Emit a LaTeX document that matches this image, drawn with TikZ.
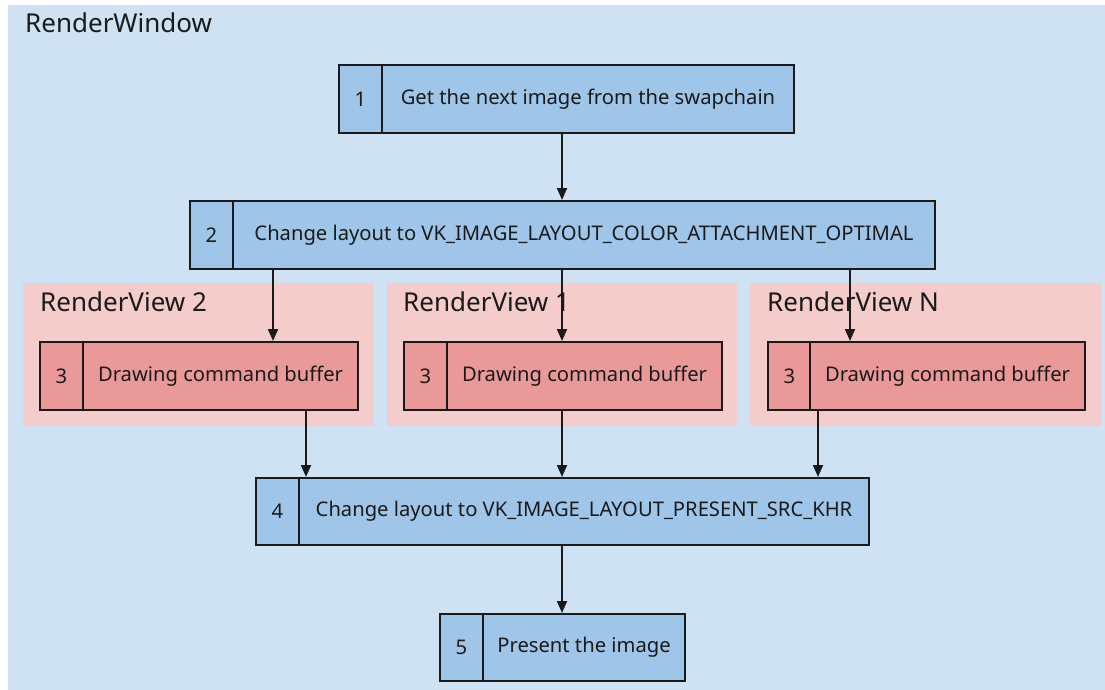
\documentclass[tikz,border=0pt]{standalone}
\usepackage{fontspec}
\setmainfont{Noto Sans}
\usetikzlibrary{arrows.meta}
\definecolor{winbg}{HTML}{CFE2F3}
\definecolor{stepblue}{HTML}{9FC5E8}
\definecolor{viewbg}{HTML}{F4CCCC}
\definecolor{stepred}{HTML}{EA9999}
\definecolor{ink}{HTML}{1A1A1A}
\tikzset{
  cell/.style={draw=ink, line width=2pt, rectangle, inner sep=0pt, anchor=north west,
    text=ink, font=\fontsize{20.2}{24}\selectfont},
  numcell/.style={cell, minimum width=43pt},
  bluecell/.style={cell, fill=stepblue},
  redcell/.style={cell, fill=stepred},
  panel/.style={fill=viewbg, draw=none},
  title/.style={anchor=base west, inner sep=0pt, text=ink, font=\fontsize{26}{30}\selectfont},
  flow/.style={draw=ink, line width=2pt, -{Triangle[length=12pt,width=10pt]}},
}
\begin{document}
\begin{tikzpicture}[x=1pt, y=-1pt]
\useasboundingbox (0,0) rectangle (1105,690);
% window background
\fill[winbg] (8,5) rectangle (1105,690);
\node[title] (wtitle) at (25,33) {RenderWindow};

% render view panels
\fill[panel] (23,283) rectangle (374,426);
\fill[panel] (387,283) rectangle (737,426);
\fill[panel] (750,283) rectangle (1101,426);
\node[title] (v2title) at (40,311) {RenderView 2};
\node[title] (v1title) at (403,311) {RenderView 1};
\node[title] (vntitle) at (767,311) {RenderView N};

% step 1
\node[bluecell, numcell, minimum height=68pt] (n1) at (338,64) {1};
\node[bluecell, minimum width=412pt, minimum height=68pt] (s1) at (381,64) {Get the next image from the swapchain};
% step 2
\node[bluecell, numcell, minimum height=68pt] (n2) at (189,200) {2};
\node[bluecell, minimum width=702pt, minimum height=68pt] (s2) at (232,200) {Change layout to VK\_IMAGE\_LAYOUT\_COLOR\_ATTACHMENT\_OPTIMAL};
% step 3 in each view
\node[redcell, numcell, minimum height=68pt] (n3a) at (39,341) {3};
\node[redcell, minimum width=275pt, minimum height=68pt] (s3a) at (82,341) {Drawing command buffer};
\node[redcell, numcell, minimum height=68pt] (n3b) at (403,341) {3};
\node[redcell, minimum width=275pt, minimum height=68pt] (s3b) at (446,341) {Drawing command buffer};
\node[redcell, numcell, minimum height=68pt] (n3c) at (767,341) {3};
\node[redcell, minimum width=275pt, minimum height=68pt] (s3c) at (809,341) {Drawing command buffer};
% step 4
\node[bluecell, numcell, minimum height=67pt] (n4) at (255,477) {4};
\node[bluecell, minimum width=570pt, minimum height=67pt] (s4) at (298,477) {Change layout to VK\_IMAGE\_LAYOUT\_PRESENT\_SRC\_KHR};
% step 5
\node[bluecell, numcell, minimum height=67pt] (n5) at (439,613) {5};
\node[bluecell, minimum width=202pt, minimum height=67pt] (s5) at (482,613) {Present the image};

% connectors
\draw[flow] (s1.south -| 562,0) -- (s2.north -| 562,0);
\draw[flow] (s2.south -| 273,0) -- (s3a.north -| 273,0);
\draw[flow] (s2.south -| 562,0) -- (s3b.north -| 562,0);
\draw[flow] (s2.south -| 850,0) -- (s3c.north -| 850,0);
\draw[flow] (s3a.south -| 306,0) -- (s4.north -| 306,0);
\draw[flow] (s3b.south -| 562,0) -- (s4.north -| 562,0);
\draw[flow] (s3c.south -| 818,0) -- (s4.north -| 818,0);
\draw[flow] (s4.south -| 562,0) -- (s5.north -| 562,0);
\end{tikzpicture}
\end{document}
